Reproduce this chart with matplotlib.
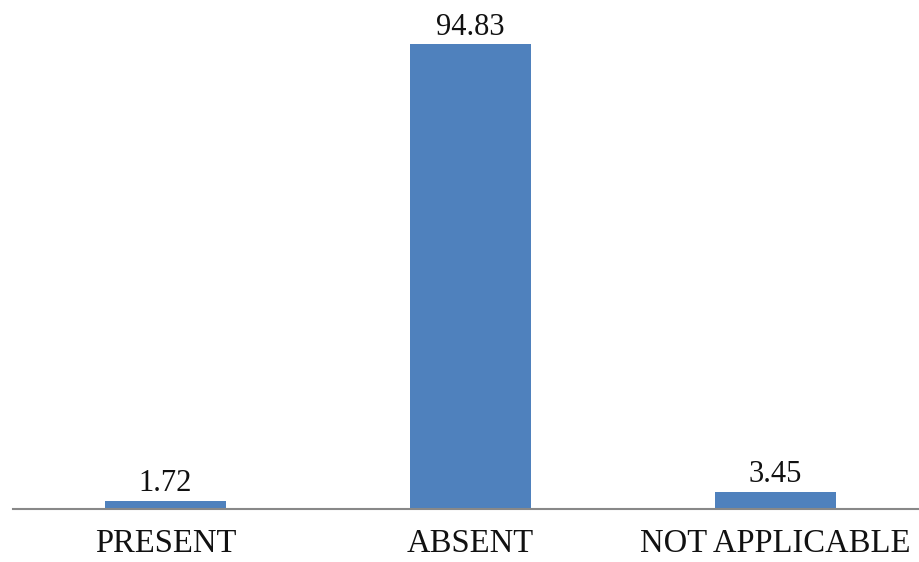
import matplotlib.pyplot as plt

categories = ['PRESENT', 'ABSENT', 'NOT APPLICABLE']
values = [1.72, 94.83, 3.45]

plt.rcParams['font.family'] = ['Liberation Serif', 'DejaVu Serif']

fig = plt.figure(figsize=(9.19, 5.62), dpi=100)
ax = fig.add_axes([13 / 919, 53 / 562, 906 / 919, 490 / 562])

x = range(len(categories))
bars = ax.bar(x, values, width=0.397, color='#4F81BD')

for b, v in zip(bars, values):
    ax.annotate(f'{v:.2f}', (b.get_x() + b.get_width() / 2, v),
                xytext=(0, 2), textcoords='offset points',
                ha='center', va='bottom', fontsize=22, color='#111111',
                annotation_clip=False)

ax.set_xlim(-0.5, 2.47)
ax.set_ylim(0, 100)
ax.set_xticks(list(x))
ax.set_xticklabels(categories, fontsize=23.5, color='#111111')
ax.tick_params(axis='x', length=0, pad=14)
ax.set_yticks([])
for s in ['top', 'left', 'right']:
    ax.spines[s].set_visible(False)
ax.spines['bottom'].set_color('#888888')
ax.spines['bottom'].set_linewidth(1.5)

fig.savefig('out.png', dpi=100)
